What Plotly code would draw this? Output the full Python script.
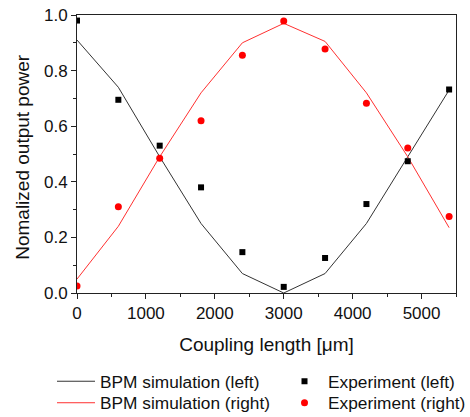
import plotly.graph_objects as go

# Data
length_um = [0, 600, 1200, 1800, 2400, 3000, 3600, 4200, 4800, 5400]
bpm_left = [0.91, 0.74, 0.49, 0.25, 0.07, 0.0, 0.07, 0.25, 0.49, 0.73]
bpm_right = [0.05, 0.24, 0.49, 0.72, 0.90, 0.97, 0.905, 0.72, 0.49, 0.235]
exp_left = [0.98, 0.695, 0.53, 0.38, 0.147, 0.022, 0.126, 0.32, 0.474, 0.732]
exp_right = [0.025, 0.31, 0.485, 0.62, 0.855, 0.978, 0.878, 0.683, 0.522, 0.275]
y_title = "Nomalized output power"
x_title = "Coupling length [μm]"

FONT = "Liberation Sans, Arial, sans-serif"
W, H = 470, 417
ML, MR, MT, MB = 77, 14, 15, 124

fig = go.Figure()
fig.add_trace(go.Scatter(x=length_um, y=bpm_left, mode="lines", name="BPM simulation (left)",
                         line=dict(color="#333333", width=1), legend="legend"))
fig.add_trace(go.Scatter(x=length_um, y=bpm_right, mode="lines", name="BPM simulation (right)",
                         line=dict(color="#ff3030", width=1), legend="legend2"))
fig.add_trace(go.Scatter(x=length_um, y=exp_left, mode="markers", name="Experiment (left)",
                         marker=dict(symbol="square", color="black", size=6), legend="legend3"))
fig.add_trace(go.Scatter(x=length_um, y=exp_right, mode="markers", name="Experiment (right)",
                         marker=dict(symbol="circle", color="red", size=7), legend="legend4"))

axis_common = dict(showline=True, linecolor="#222222", linewidth=1, mirror=True,
                   ticks="outside", ticklen=5, tickcolor="#222222", showgrid=False,
                   zeroline=False,
                   tickfont=dict(size=17, color="#111111", family=FONT))


def leg(xpx, ypx, iw):
    return dict(x=xpx / W, y=1 - ypx / H, xref="container", yref="container",
                xanchor="left", yanchor="middle", orientation="v",
                font=dict(size=17.3), bgcolor="rgba(0,0,0,0)", itemwidth=iw)


plot_w = W - ML - MR

fig.update_layout(
    width=W, height=H,
    margin=dict(l=ML, r=MR, t=MT, b=MB, autoexpand=False),
    paper_bgcolor="white", plot_bgcolor="white",
    font=dict(family=FONT, color="#111111"),
    xaxis=dict(range=[0, 5500], dtick=1000, tick0=0,
               minor=dict(dtick=500, ticks="outside", ticklen=3, tickcolor="#222222"),
               title=dict(text=x_title, font=dict(size=19)),
               **axis_common),
    yaxis=dict(range=[0, 1.0], dtick=0.2, tick0=0, tickformat=".1f",
               minor=dict(dtick=0.1, ticks="outside", ticklen=3, tickcolor="#222222"),
               **axis_common),
    legend=leg(52, 381.5, 38),
    legend2=leg(52, 403, 38),
    legend3=leg(281, 381.5, 37),
    legend4=leg(281, 403, 37),
    showlegend=True,
    annotations=[dict(text=y_title, textangle=-90, xref="paper", yref="paper",
                      x=(23 - ML) / plot_w, y=0.49, xanchor="center", yanchor="middle",
                      showarrow=False, font=dict(size=19, color="#111111"))],
)

fig.write_html("out.html", config={"displayModeBar": False},
               post_script="document.body.style.margin='0';")
